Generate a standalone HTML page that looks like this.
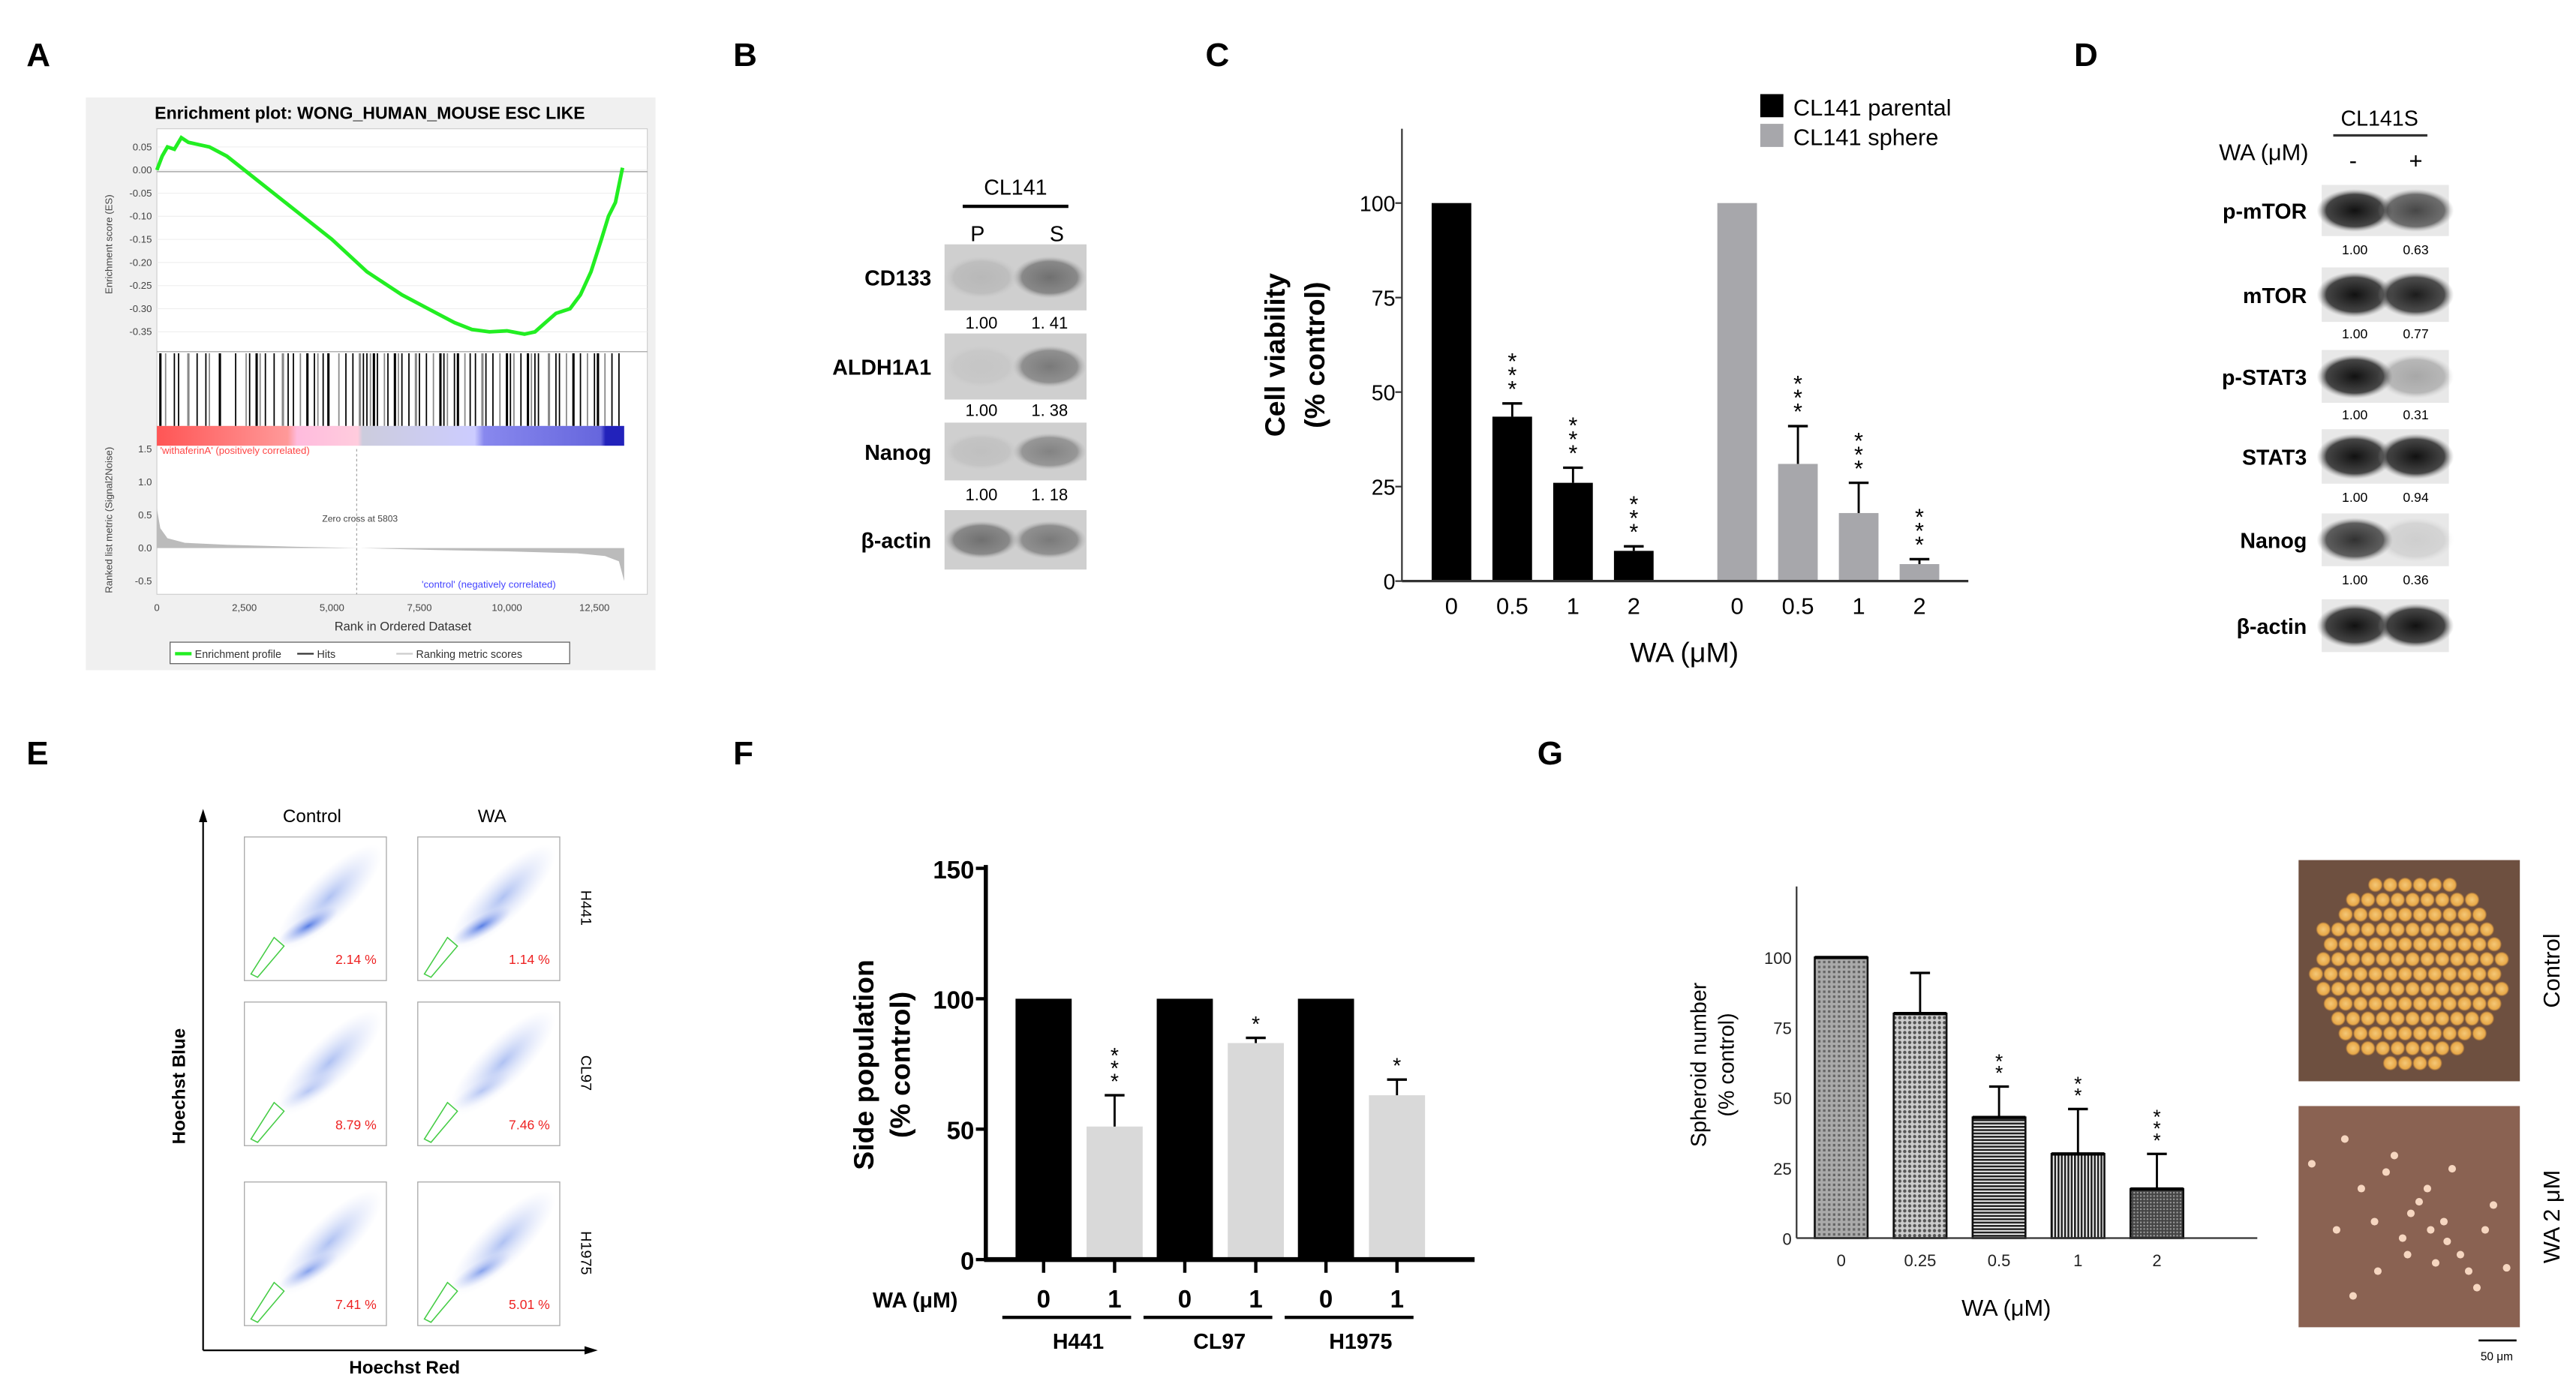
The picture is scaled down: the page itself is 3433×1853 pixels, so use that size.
<!DOCTYPE html>
<html><head><meta charset="utf-8">
<style>
html,body{margin:0;padding:0;background:#fff;}
svg{display:block;font-family:"Liberation Sans",Arial,sans-serif;}
</style></head>
<body>
<svg id="fig" width="3433" height="1853" viewBox="0 0 1560 842" xmlns="http://www.w3.org/2000/svg">
<defs>
  <linearGradient id="cbar" x1="0" x2="1" y1="0" y2="0">
    <stop offset="0" stop-color="#f55"/><stop offset="0.28" stop-color="#f99"/>
    <stop offset="0.3" stop-color="#fbd"/><stop offset="0.43" stop-color="#fcd"/>
    <stop offset="0.44" stop-color="#ccd"/><stop offset="0.68" stop-color="#ccf"/>
    <stop offset="0.7" stop-color="#88e"/><stop offset="0.95" stop-color="#66d"/>
    <stop offset="0.96" stop-color="#22b"/><stop offset="1" stop-color="#22b"/>
  </linearGradient>
  <radialGradient id="band"><stop offset="0" stop-color="#111"/><stop offset="0.75" stop-color="#333" stop-opacity="0.9"/><stop offset="1" stop-color="#999" stop-opacity="0"/></radialGradient>
  <radialGradient id="flow"><stop offset="0" stop-color="#2255dd" stop-opacity="0.8"/><stop offset="1" stop-color="#99aaee" stop-opacity="0"/></radialGradient>
  <pattern id="p0" width="3" height="3" patternUnits="userSpaceOnUse"><rect width="3" height="3" fill="#aaa"/><rect width="1.5" height="1.5" fill="#666"/></pattern>
  <pattern id="p1" width="3" height="3" patternUnits="userSpaceOnUse"><rect width="3" height="3" fill="#ccc"/><circle cx="1.5" cy="1.5" r="1" fill="#555"/></pattern>
  <pattern id="p2" width="4" height="2" patternUnits="userSpaceOnUse"><rect width="4" height="2" fill="#fff"/><rect width="4" height="1.2" fill="#222"/></pattern>
  <pattern id="p3" width="2" height="4" patternUnits="userSpaceOnUse"><rect width="2" height="4" fill="#fff"/><rect width="1.2" height="4" fill="#222"/></pattern>
  <pattern id="p4" width="2" height="2" patternUnits="userSpaceOnUse"><rect width="2" height="2" fill="#444"/><rect width="1" height="1" fill="#999"/></pattern>
  <radialGradient id="cell"><stop offset="0" stop-color="#f4c878"/><stop offset="0.75" stop-color="#e8a848"/><stop offset="1" stop-color="#6b4a3a"/></radialGradient>
</defs>

<g font-weight="bold" font-size="20">
<text x="16" y="40">A</text><text x="444" y="40">B</text><text x="730" y="40">C</text><text x="1256" y="40">D</text>
<text x="16" y="463">E</text><text x="444" y="463">F</text><text x="931" y="463">G</text>
</g>

<g id="gsea">
<rect x="52" y="59" width="345" height="347" fill="#f0f0f0"/>
<rect x="95" y="78" width="297" height="282" fill="#fff" stroke="#ccc" stroke-width="0.5"/>
<text x="224" y="72" font-size="10.5" font-weight="bold" text-anchor="middle">Enrichment plot: WONG_HUMAN_MOUSE ESC LIKE</text>
<line x1="95" y1="213" x2="392" y2="213" stroke="#999" stroke-width="0.5"/>
<line x1="95" y1="104" x2="392" y2="104" stroke="#999" stroke-width="0.6"/>
<rect x="95" y="258" width="283" height="12" fill="url(#cbar)"/>
<g id="esTicks" font-size="6" fill="#444" text-anchor="end"></g>
<g id="hits"></g>
<path id="rankArea" fill="#bbb"/>
<line x1="216" y1="272" x2="216" y2="360" stroke="#999" stroke-dasharray="1.5,1.5" stroke-width="0.5"/>
<text x="218" y="316" font-size="5.5" fill="#444" text-anchor="middle">Zero cross at 5803</text>
<text x="97" y="275" font-size="6" fill="#f44">'withaferinA' (positively correlated)</text>
<text x="296" y="356" font-size="6" fill="#44f" text-anchor="middle">'control' (negatively correlated)</text>
<path id="esLine" fill="none" stroke="#22ee22" stroke-width="2.2"/>
<g id="rankTicks" font-size="6" fill="#444" text-anchor="end"></g>
<g id="xTicksA" font-size="6" fill="#444" text-anchor="middle"></g>
<text x="244" y="382" font-size="7.5" text-anchor="middle" fill="#333">Rank in Ordered Dataset</text>
<text transform="translate(68,148) rotate(-90)" font-size="6" fill="#444" text-anchor="middle">Enrichment score (ES)</text>
<text transform="translate(68,315) rotate(-90)" font-size="6" fill="#444" text-anchor="middle">Ranked list metric (Signal2Noise)</text>
<rect x="103" y="389" width="242" height="13" fill="#fff" stroke="#666" stroke-width="0.6"/>
<line x1="106" y1="396" x2="116" y2="396" stroke="#2e2" stroke-width="2"/>
<text x="118" y="398.5" font-size="6.5" fill="#333">Enrichment profile</text>
<line x1="180" y1="396" x2="190" y2="396" stroke="#333" stroke-width="1"/>
<text x="192" y="398.5" font-size="6.5" fill="#333">Hits</text>
<line x1="240" y1="396" x2="250" y2="396" stroke="#ccc" stroke-width="1"/>
<text x="252" y="398.5" font-size="6.5" fill="#333">Ranking metric scores</text>
</g>

<g>
<text x="615" y="118" font-size="13" text-anchor="middle">CL141</text>
<line x1="583" y1="125" x2="647" y2="125" stroke="#000" stroke-width="2"/>
<text x="592" y="146" font-size="13" text-anchor="middle">P</text>
<text x="640" y="146" font-size="13" text-anchor="middle">S</text>
<g id="blotB"></g>
</g>

<g id="chartC">
<g id="cBars"></g>
<line x1="849" y1="78" x2="849" y2="352" stroke="#333" stroke-width="1"/>
<line x1="849" y1="352" x2="1192" y2="352" stroke="#333" stroke-width="1.5"/>
<g id="cTicks" font-size="13" text-anchor="end"></g>
<text x="1020" y="401" font-size="17" text-anchor="middle">WA (μM)</text>
<text transform="translate(778,215) rotate(-90)" font-size="17" font-weight="bold" text-anchor="middle">Cell viability</text>
<text transform="translate(802,215) rotate(-90)" font-size="17" font-weight="bold" text-anchor="middle">(% control)</text>
<rect x="1066" y="57" width="14" height="14" fill="#000"/>
<text x="1086" y="70" font-size="14">CL141 parental</text>
<rect x="1066" y="75" width="14" height="14" fill="#a7a7ab"/>
<text x="1086" y="88" font-size="14">CL141 sphere</text>
</g>

<g>
<text x="1441" y="76" font-size="13" text-anchor="middle">CL141S</text>
<line x1="1413" y1="82" x2="1470" y2="82" stroke="#333" stroke-width="1.5"/>
<text x="1398" y="97" font-size="14" text-anchor="end">WA (μM)</text>
<text x="1425" y="102" font-size="14" text-anchor="middle">-</text>
<text x="1463" y="102" font-size="14" text-anchor="middle">+</text>
<g id="blotD"></g>
</g>

<g id="flowE">
<line x1="123" y1="818" x2="123" y2="496" stroke="#000" stroke-width="1"/>
<path d="M120.5,498 L123,490 L125.5,498 Z"/>
<line x1="123" y1="818" x2="356" y2="818" stroke="#000" stroke-width="1"/>
<path d="M354,815.5 L362,818 L354,820.5 Z"/>
<text x="189" y="498" font-size="11" text-anchor="middle">Control</text>
<text x="298" y="498" font-size="11" text-anchor="middle">WA</text>
<text transform="translate(112,658) rotate(-90)" font-size="11" font-weight="bold" text-anchor="middle">Hoechst Blue</text>
<text x="245" y="832" font-size="11" font-weight="bold" text-anchor="middle">Hoechst Red</text>
<g id="flowPlots"></g>
</g>

<g id="chartF">
<g id="fBars"></g>
<line x1="597" y1="524" x2="597" y2="764" stroke="#000" stroke-width="2.5"/>
<line x1="596" y1="763" x2="893" y2="763" stroke="#000" stroke-width="3"/>
<g id="fTicks" font-size="15" font-weight="bold" text-anchor="end"></g>
<text x="580" y="792" font-size="13" font-weight="bold" text-anchor="end">WA (μM)</text>
<g id="fGroups" font-size="13" font-weight="bold" text-anchor="middle"></g>
<text transform="translate(529,645) rotate(-90)" font-size="17" font-weight="bold" text-anchor="middle">Side population</text>
<text transform="translate(551,645) rotate(-90)" font-size="17" font-weight="bold" text-anchor="middle">(% control)</text>
</g>

<g id="chartG">
<g id="gBars"></g>
<line x1="1088" y1="537" x2="1088" y2="750" stroke="#333" stroke-width="1"/>
<line x1="1088" y1="750" x2="1367" y2="750" stroke="#333" stroke-width="1"/>
<g id="gTicks" font-size="10" text-anchor="end" fill="#222"></g>
<text x="1215" y="797" font-size="14" text-anchor="middle">WA (μM)</text>
<text transform="translate(1033,645) rotate(-90)" font-size="13" text-anchor="middle">Spheroid number</text>
<text transform="translate(1050,645) rotate(-90)" font-size="13" text-anchor="middle">(% control)</text>
<rect x="1392" y="521" width="134" height="134" fill="#6e5040"/>
<g id="cellsC"></g>
<rect x="1392" y="670" width="134" height="134" fill="#8a6252"/>
<g id="cellsW"></g>
<text transform="translate(1550,588) rotate(-90)" font-size="14" text-anchor="middle">Control</text>
<text transform="translate(1550,737) rotate(-90)" font-size="14" text-anchor="middle">WA 2 μM</text>
<line x1="1501" y1="812" x2="1524" y2="812" stroke="#000" stroke-width="1.2"/>
<text x="1512" y="824" font-size="7" text-anchor="middle">50 μm</text>
</g>
</svg>

<script>
const esRanks = [0,150,300,500,700,900,1200,1500,2000,2500,3000,4000,5000,6000,7000,8000,8500,9000,9500,10000,10500,10800,11100,11400,11800,12100,12400,12700,12900,13100,13300];
const esValues = [0,0.03,0.05,0.045,0.07,0.06,0.055,0.05,0.03,0.0,-0.03,-0.09,-0.15,-0.22,-0.27,-0.31,-0.33,-0.345,-0.35,-0.348,-0.355,-0.35,-0.33,-0.31,-0.3,-0.27,-0.22,-0.15,-0.1,-0.07,0.005];
const esTickLabels = ["0.05","0.00","-0.05","-0.10","-0.15","-0.20","-0.25","-0.30","-0.35"];
const esTickValues = [0.05,0,-0.05,-0.1,-0.15,-0.2,-0.25,-0.3,-0.35];
const rankTickValues = [0,2500,5000,7500,10000,12500];
const rankTickLabels = ["0","2,500","5,000","7,500","10,000","12,500"];
const metricTickValues = [1.5,1.0,0.5,0.0,-0.5];
const metricRanks = [0,100,300,800,2000,4000,5803,8000,10000,12000,12800,13200,13350];
const metricValues = [0.6,0.3,0.15,0.08,0.05,0.02,0,-0.03,-0.05,-0.08,-0.12,-0.2,-0.5];
const hitRanks = [100,250,500,620,900,1150,1400,1500,1800,2250,2550,2650,2850,2950,3100,3350,3600,3750,3900,4100,4300,4500,4600,4750,4900,5200,5400,5600,5800,5900,6000,6100,6200,6300,6500,6600,6800,6900,7000,7200,7400,7500,7700,7900,8100,8200,8300,8500,8600,8800,8950,9100,9300,9400,9600,9800,10000,10100,10200,10400,10600,10700,10800,10900,11200,11400,11500,11700,11900,12100,12300,12500,12600,12800,13000,13200];

const NS="http://www.w3.org/2000/svg";
function mk(parent,tag,attrs,text){const e=document.createElementNS(NS,tag);for(const k in attrs)e.setAttribute(k,attrs[k]);if(text!==undefined)e.textContent=text;parent.appendChild(e);return e;}
const xA = r => 95 + r*0.0212;
const yES = v => 103 - v*280;
const yM = v => 332 - v*40;

let d="";
esRanks.forEach((r,i)=>{d+=(i?"L":"M")+xA(r).toFixed(1)+","+yES(esValues[i]).toFixed(1);});
document.getElementById('esLine').setAttribute('d',d);
const est=document.getElementById('esTicks');
esTickValues.forEach((v,i)=>{
  const t=mk(est,'text',{x:92,y:yES(v)+2},esTickLabels[i]);
  
  
  mk(est,'line',{x1:95,x2:392,y1:yES(v),y2:yES(v),stroke:'#eee','stroke-width':0.5});
});
const hg=document.getElementById('hits');
hitRanks.forEach((r,i)=>{
  const l=mk(hg,'line',{x1:xA(r),x2:xA(r),y1:214,y2:258,stroke:(i%3==1?'#888':'#000'),'stroke-width':(i%4==0?1.4:0.8)});
  
  
});
let ad="M"+xA(0)+","+yM(0);
metricRanks.forEach((r,i)=>{ad+="L"+xA(r).toFixed(1)+","+yM(metricValues[i]).toFixed(1);});
ad+="L"+xA(13350)+","+yM(0)+"Z";
document.getElementById('rankArea').setAttribute('d',ad);
const mt=document.getElementById('rankTicks');
metricTickValues.forEach(v=>{const t=mk(mt,'text',{x:92,y:yM(v)+2},v.toFixed(1));
  
  });
const xt=document.getElementById('xTicksA');
rankTickValues.forEach((v,i)=>{const t=mk(xt,'text',{x:xA(v),y:370},rankTickLabels[i]);
  
  });

function blot(gid,rows,x0,w,lx,bg,rxf,ryf){
  const g=document.getElementById(gid);
  rows.forEach(r=>{
    mk(g,'rect',{x:x0,y:r.y,width:w,height:r.h,fill:bg});
    r.bands.forEach((b,j)=>{
      mk(g,'ellipse',{cx:x0+w*(j?0.74:0.26),cy:r.y+r.h/2,rx:w*rxf,ry:r.h*ryf,fill:'url(#band)',opacity:b});
    });
    const t=mk(g,'text',{x:lx,y:r.y+r.h/2+5,'font-size':13,'font-weight':'bold','text-anchor':'end'},r.label);
    
    
    if(r.nums){mk(g,'text',{x:x0+w*0.26,y:r.y+r.h+r.ny,'font-size':r.nf,'text-anchor':'middle'},r.nums[0]);
               mk(g,'text',{x:x0+w*0.74,y:r.y+r.h+r.ny,'font-size':r.nf,'text-anchor':'middle'},r.nums[1]);}
  });
}
blot('blotB',[
 {label:'CD133',y:148,h:40,bands:[0.12,0.5],nums:['1.00','1. 41'],ny:11,nf:10},
 {label:'ALDH1A1',y:202,h:40,bands:[0.05,0.45],nums:['1.00','1. 38'],ny:10,nf:10},
 {label:'Nanog',y:256,h:35,bands:[0.08,0.4],nums:['1.00','1. 18'],ny:12,nf:10},
 {label:'β-actin',y:309,h:36,bands:[0.5,0.45]}
],572,86,564,'#cfcfcf',0.26,0.32);
blot('blotD',[
 {label:'p-mTOR',y:112,h:31,bands:[1,0.75],nums:['1.00','0.63'],ny:11,nf:8},
 {label:'mTOR',y:162,h:33,bands:[1,0.95],nums:['1.00','0.77'],ny:10,nf:8},
 {label:'p-STAT3',y:212,h:32,bands:[1,0.3],nums:['1.00','0.31'],ny:10,nf:8},
 {label:'STAT3',y:260,h:33,bands:[1,1],nums:['1.00','0.94'],ny:11,nf:8},
 {label:'Nanog',y:311,h:32,bands:[0.85,0.12],nums:['1.00','0.36'],ny:11,nf:8},
 {label:'β-actin',y:363,h:32,bands:[1,1]}
],1406,77,1397,'#e8e8e8',0.3,0.42);

const cCategories = ["0","0.5","1","2"];
const cParental = [100,43.5,26,8];
const cParentalErr = [0,3.5,4,1.2];
const cSphere = [100,31,18,4.5];
const cSphereErr = [0,10,8,1.3];
const cStars = ["","***","***","***"];
const cTickValues = [0,25,50,75,100];
const yC = v => 352 - v*2.29;
const xC = (grp,i) => 879 + i*36.8 + grp*173;
function barsGeneric(g,xc,bw,vals,errs,yf,fill,stars,starSize,capW,nameBase){
  vals.forEach((v,i)=>{
    const x=xc(i);
    const r=mk(g,'rect',{x:x-bw/2,y:yf(v),width:bw,height:yf(0)-yf(v),fill:fill(i)});
    
    
    if(errs[i]>0){
      mk(g,'line',{x1:x,x2:x,y1:yf(v),y2:yf(v+errs[i]),stroke:'#000','stroke-width':1.3});
      mk(g,'line',{x1:x-capW,x2:x+capW,y1:yf(v+errs[i]),y2:yf(v+errs[i]),stroke:'#000','stroke-width':1.5});
    }
    if(stars[i]){
      const n=stars[i].length;
      for(let k=0;k<n;k++) mk(g,'text',{x:x,y:yf(v+errs[i])-4-k*starSize*0.6,'font-size':starSize,'text-anchor':'middle'},'*');
    }
  });
}
const cb=document.getElementById('cBars');
barsGeneric(cb,i=>xC(0,i),24,cParental,cParentalErr,yC,()=>'#000',cStars,14,6,'bar-parental');
barsGeneric(cb,i=>xC(1,i),24,cSphere,cSphereErr,yC,()=>'#a7a7ab',cStars,14,6,'bar-sphere');
const ct=document.getElementById('cTicks');
cTickValues.forEach(v=>{mk(ct,'text',{x:845,y:yC(v)+5},String(v));mk(ct,'line',{x1:845,x2:849,y1:yC(v),y2:yC(v),stroke:'#333'});});
[0,1].forEach(gp=>cCategories.forEach((c,i)=>{const t=mk(ct,'text',{x:xC(gp,i),y:372,'text-anchor':'middle','font-size':14},c);
  
  }));

const flowPct = [["2.14 %","1.14 %"],["8.79 %","7.46 %"],["7.41 %","5.01 %"]];
const flowLines = ["H441","CL97","H1975"];
const fp=document.getElementById('flowPlots');
const rowsY=[507,607,716], colsX=[148,253];
rowsY.forEach((ry,r)=>{
  colsX.forEach((cx,c)=>{
    const w=86,h=87;
    mk(fp,'rect',{x:cx,y:ry,width:w,height:h,fill:'#fff',stroke:'#aaa','stroke-width':0.6});
    const dense = r===0 ? 0.9 : (r===2?0.6:0.3);
    mk(fp,'ellipse',{cx:cx+w*0.6,cy:ry+h*0.42,rx:w*0.5,ry:h*0.16,fill:'url(#flow)',opacity:0.45,transform:`rotate(-45 ${cx+w*0.6} ${ry+h*0.42})`});
    mk(fp,'ellipse',{cx:cx+w*0.45,cy:ry+h*0.62,rx:w*0.24,ry:h*0.07,fill:'url(#flow)',opacity:dense,transform:`rotate(-30 ${cx+w*0.45} ${ry+h*0.62})`});
    mk(fp,'path',{d:`M${cx+4},${ry+h-4} L${cx+18},${ry+h*0.7} L${cx+24},${ry+h*0.76} L${cx+8},${ry+h-2} Z`,fill:'none',stroke:'#4c4','stroke-width':0.7});
    const t=mk(fp,'text',{x:cx+w-6,y:ry+h-10,'font-size':8,fill:'#e22','text-anchor':'end'},flowPct[r][c]);
    
    
  });
  mk(fp,'text',{transform:`translate(352,${ry+43}) rotate(90)`,'font-size':9,'text-anchor':'middle'},flowLines[r]);
});

const fGroupsNames = ["H441","CL97","H1975"];
const fControl = [100,100,100];
const fTreated = [51,83,63];
const fTreatedErr = [12,2,6];
const fStars = ["***","*","*"];
const fTickValues = [0,50,100,150];
const yF = v => 763 - v*1.58;
const fb=document.getElementById('fBars');
const fxc = (g,j)=>632 + g*85.5 + j*43;
barsGeneric(fb,i=>fxc(i,0),34,fControl,[0,0,0],yF,()=>'#000',["","",""],12,6,'bar-control');
barsGeneric(fb,i=>fxc(i,1),34,fTreated,fTreatedErr,yF,()=>'#d9d9d9',fStars,13,6,'bar-wa');
const ft=document.getElementById('fTicks');
fTickValues.forEach(v=>{mk(ft,'text',{x:590,y:yF(v)+6},String(v));mk(ft,'line',{x1:591,x2:597,y1:yF(v),y2:yF(v),stroke:'#000','stroke-width':2});});
const fg=document.getElementById('fGroups');
fGroupsNames.forEach((n,i)=>{
  [0,1].forEach(j=>{mk(fg,'line',{x1:fxc(i,j),x2:fxc(i,j),y1:763,y2:771,stroke:'#000','stroke-width':2});
    mk(fg,'text',{x:fxc(i,j),y:792,'font-size':15},String(j));});
  mk(fg,'line',{x1:fxc(i,0)-25,x2:fxc(i,1)+10,y1:798,y2:798,stroke:'#000','stroke-width':2});
  const t=mk(fg,'text',{x:fxc(i,0)+21,y:817},n);
  
  
});

const gCategories = ["0","0.25","0.5","1","2"];
const gValues = [100,80,43,30,17.5];
const gErr = [0,14.5,11,16,12.5];
const gStars = ["","","**","**","***"];
const gTickValues = [0,25,50,75,100];
const yG = v => 750 - v*1.7;
const xG = i => 1115 + i*47.8;
const gb=document.getElementById('gBars');
barsGeneric(gb,xG,32,gValues,gErr,yG,i=>'url(#p'+i+')',gStars,12,6,'bar-spheroid');
gValues.forEach((v,i)=>{mk(gb,'rect',{x:xG(i)-16,y:yG(v),width:32,height:yG(0)-yG(v),fill:'none',stroke:'#111','stroke-width':1.2});
  mk(gb,'line',{x1:xG(i)-16,x2:xG(i)+16,y1:yG(v),y2:yG(v),stroke:'#000','stroke-width':2});});
const gt=document.getElementById('gTicks');
gTickValues.forEach(v=>{mk(gt,'text',{x:1085,y:yG(v)+4},String(v));});
gCategories.forEach((c,i)=>{const t=mk(gt,'text',{x:xG(i),y:767,'text-anchor':'middle'},c);
  
  });

const cc=document.getElementById('cellsC');
for(let r=0;r<14;r++)for(let c=0;c<14;c++){
  const cx=1398+c*9+(r%2)*4.5, cy=527+r*9;
  const dx=cx-1460, dy=cy-588;
  if(dx*dx/3400+dy*dy/3600<1) mk(cc,'circle',{cx:cx,cy:cy,r:4.6,fill:'url(#cell)'});
}
const cw=document.getElementById('cellsW');
[[1420,690],[1450,700],[1470,720],[1480,740],[1460,735],[1490,760],[1500,780],[1440,770],[1430,720],[1475,765],[1455,750],[1510,730],[1415,745],[1485,708],[1465,728],[1472,745],[1482,752],[1445,710],[1495,770],[1505,745],[1458,760],[1438,740],[1400,705],[1518,768],[1425,785]].forEach(p=>mk(cw,'circle',{cx:p[0],cy:p[1],r:2.3,fill:'#f6d6c0'}));
</script>
</body></html>
